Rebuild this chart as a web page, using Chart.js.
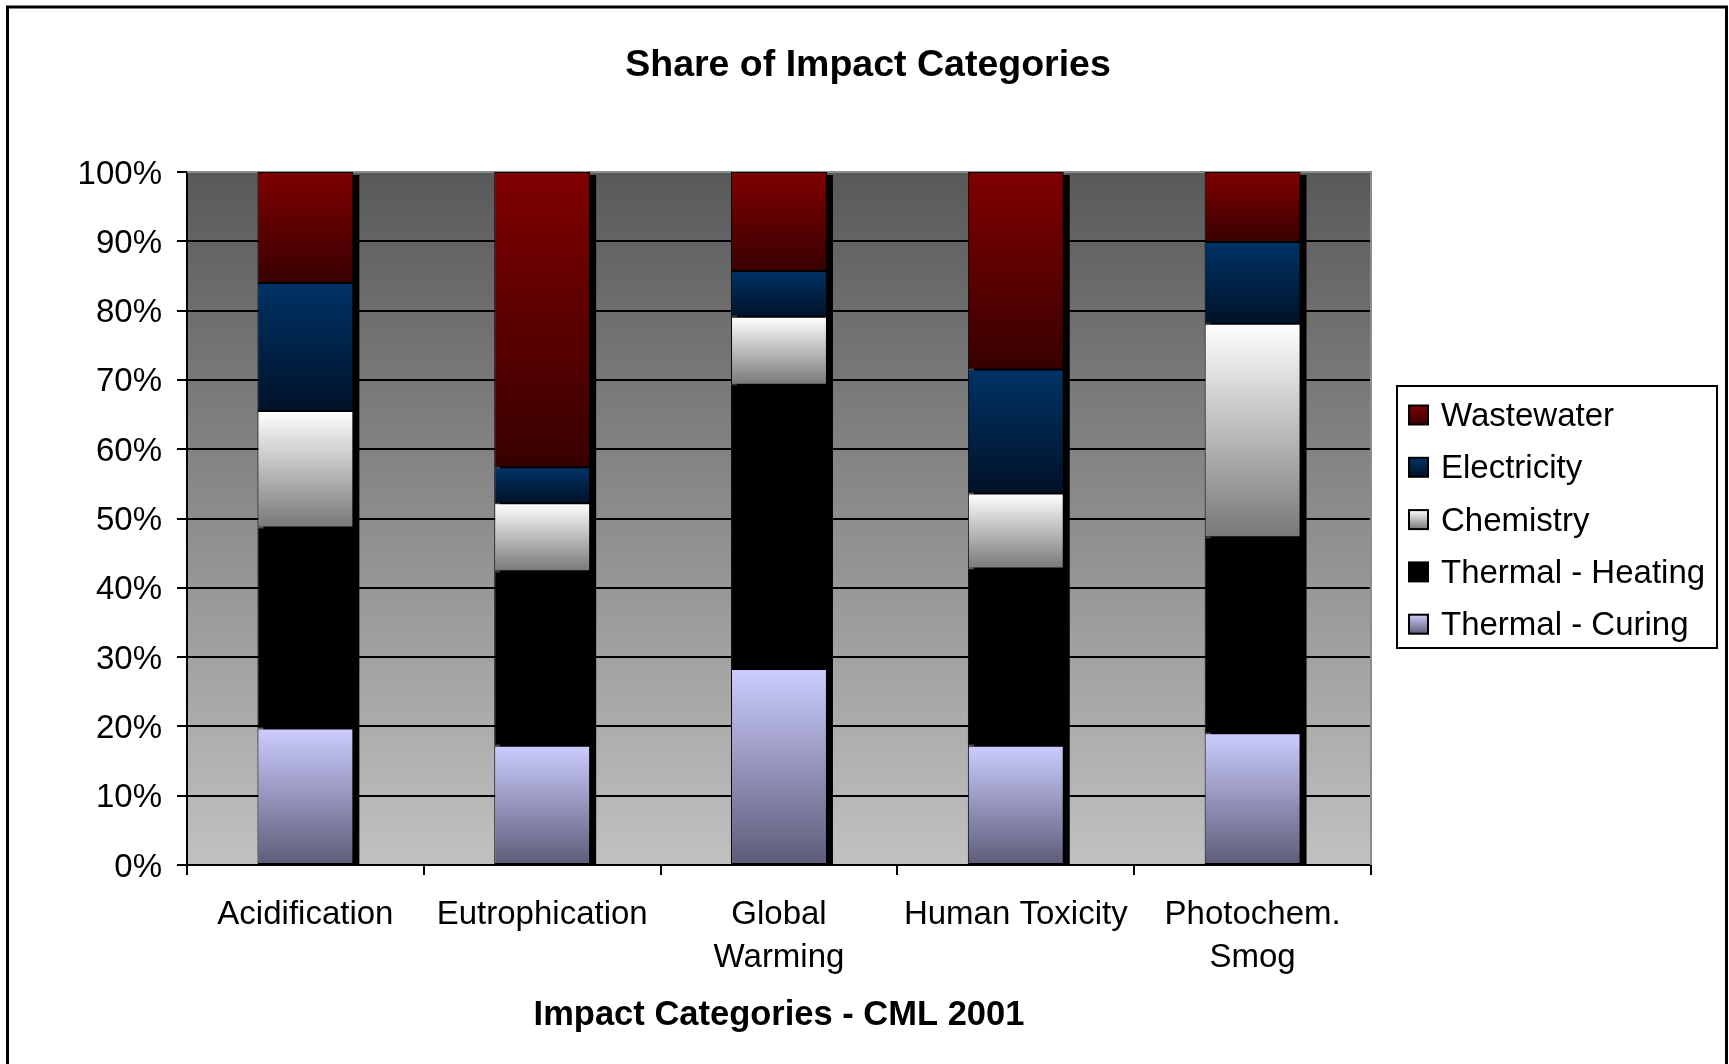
<!DOCTYPE html>
<html>
<head>
<meta charset="utf-8">
<title>Share of Impact Categories</title>
<script src="https://cdn.jsdelivr.net/npm/chart.js@4.4.1/dist/chart.umd.min.js"></script>
<style>
  html, body { margin: 0; padding: 0; background: #ffffff; }
  canvas { display: block; }
</style>
</head>
<body>
<canvas id="chart" width="1729" height="1064"></canvas>
<script>
// Impact categories (CML 2001) and the share contributed by each process step, in percent.
const categories = ['Acidification', 'Eutrophication', ['Global', 'Warming'], 'Human Toxicity', ['Photochem.', 'Smog']];
const seriesNames = ['Thermal - Curing', 'Thermal - Heating', 'Chemistry', 'Electricity', 'Wastewater'];
const thermalCuring  = [19.7, 17.2, 28.3, 17.2, 19.0];
const thermalHeating = [29.0, 25.2, 41.0, 25.6, 28.3];
const chemistry      = [16.8,  9.8,  9.8, 10.8, 30.8];
const electricity    = [18.5,  5.2,  6.6, 17.9, 11.8];
const wastewater     = [16.0, 42.6, 14.3, 28.5, 10.1];
const yTickStep = 10;
const yMax = 100;

const seriesValues = [thermalCuring, thermalHeating, chemistry, electricity, wastewater];

// top / bottom colour of each segment's vertical shading
const shades = [
  ['#ccccff', '#5c5c78'],
  ['#000000', '#000000'],
  ['#ffffff', '#787878'],
  ['#003366', '#001228'],
  ['#800000', '#380000']
];

const FONT = '"Liberation Sans", Arial, Helvetica, sans-serif';

function segmentFill(si) {
  return (ctx) => {
    const chart = ctx.chart;
    const area = chart.chartArea;
    const [c0, c1] = shades[si];
    if (!area || ctx.type !== 'data' || !chart.scales.y) return c0;
    const y = chart.scales.y;
    let below = 0;
    for (let k = 0; k < si; k++) below += seriesValues[k][ctx.dataIndex];
    const top = y.getPixelForValue(below + seriesValues[si][ctx.dataIndex]);
    const bot = y.getPixelForValue(below);
    if (!isFinite(top) || !isFinite(bot) || top === bot) return c0;
    const g = chart.ctx.createLinearGradient(0, top, 0, bot);
    g.addColorStop(0, c0);
    g.addColorStop(1, c1);
    return g;
  };
}

// plot-area shading, frame, column shadows and the boxed legend
const plotDecor = {
  id: 'plotDecor',
  beforeDraw(chart) {
    const { ctx, chartArea: a } = chart;
    ctx.save();
    ctx.fillStyle = '#ffffff';
    ctx.fillRect(0, 0, chart.width, chart.height);
    const g = ctx.createLinearGradient(0, a.top, 0, a.bottom);
    g.addColorStop(0, '#595959');
    g.addColorStop(1, '#c1c1c1');
    ctx.fillStyle = g;
    ctx.fillRect(a.left, a.top, a.right - a.left, a.bottom - a.top);
    ctx.restore();
  },
  beforeDatasetsDraw(chart) {
    const { ctx, chartArea: a } = chart;
    ctx.save();
    // light frame on top and right of the plot area
    ctx.strokeStyle = '#8c8c8c';
    ctx.lineWidth = 2;
    ctx.beginPath();
    ctx.moveTo(a.left, a.top);
    ctx.lineTo(a.right, a.top);
    ctx.lineTo(a.right, a.bottom);
    ctx.stroke();
    // shadows
    ctx.beginPath();
    ctx.rect(a.left, a.top, a.right - a.left, a.bottom - a.top);
    ctx.clip();
    ctx.fillStyle = '#000000';
    const metas = chart.getSortedVisibleDatasetMetas();
    const base = metas[0];
    base.data.forEach((bar, i) => {
      let top = Infinity;
      let bottom = -Infinity;
      metas.forEach(m => {
        const el = m.data[i];
        top = Math.min(top, el.y, el.base);
        bottom = Math.max(bottom, el.y, el.base);
      });
      const w = bar.width;
      ctx.fillRect(bar.x - w / 2 + 6, top + 3, w, bottom - top);
    });
    ctx.restore();
  },
  afterDraw(chart) {
    const ctx = chart.ctx;
    ctx.save();
    // outer frame
    ctx.strokeStyle = '#000000';
    ctx.lineWidth = 3;
    ctx.strokeRect(7.5, 7, 1719, 1100);

    // legend
    const x0 = 1397, y0 = 386, w = 320, h = 262;
    ctx.fillStyle = '#ffffff';
    ctx.fillRect(x0, y0, w, h);
    ctx.lineWidth = 2;
    ctx.strokeRect(x0, y0, w, h);
    ctx.font = '33px ' + FONT;
    ctx.textBaseline = 'middle';
    ctx.textAlign = 'left';
    const order = [4, 3, 2, 1, 0];
    order.forEach((si, i) => {
      const cy = 415 + i * 52.3;
      const s = 19;
      const g = ctx.createLinearGradient(0, cy - s / 2, 0, cy + s / 2);
      g.addColorStop(0, shades[si][0]);
      g.addColorStop(1, shades[si][1]);
      ctx.fillStyle = g;
      ctx.fillRect(1409, cy - s / 2, s, s);
      ctx.lineWidth = 2;
      ctx.strokeStyle = '#000000';
      ctx.strokeRect(1409, cy - s / 2, s, s);
      ctx.fillStyle = '#000000';
      ctx.fillText(seriesNames[si], 1441, cy + 2);
    });
    ctx.restore();
  }
};

const datasets = seriesNames.map((name, si) => ({
  label: name,
  data: seriesValues[si],
  backgroundColor: segmentFill(si),
  borderColor: '#000000',
  borderWidth: 1,
  borderSkipped: false,
  categoryPercentage: 1.0,
  barPercentage: 0.405
}));

new Chart(document.getElementById('chart'), {
  type: 'bar',
  data: { labels: categories, datasets },
  plugins: [plotDecor],
  options: {
    responsive: false,
    animation: false,
    devicePixelRatio: 1,
    layout: { padding: { left: 7, right: 0, top: 0, bottom: 0 } },
    plugins: {
      legend: { display: false },
      tooltip: { enabled: false },
      title: {
        display: true,
        text: 'Share of Impact Categories',
        color: '#000000',
        font: { family: FONT, size: 37.5, weight: 'bold', lineHeight: 1.2 },
        padding: { top: 43.5, bottom: 83.5 }
      }
    },
    scales: {
      x: {
        stacked: true,
        offset: true,
        grid: {
          display: true,
          drawOnChartArea: false,
          drawTicks: true,
          tickLength: 10,
          color: '#000000',
          lineWidth: 2,
          offset: true
        },
        border: { display: true, color: '#000000', width: 2 },
        ticks: {
          color: '#000000',
          font: { family: FONT, size: 33, lineHeight: 1.3 },
          padding: 18.5,
          maxRotation: 0,
          autoSkip: false
        },
        title: {
          display: true,
          text: 'Impact Categories - CML 2001',
          color: '#000000',
          font: { family: FONT, size: 34.5, weight: 'bold', lineHeight: 1.2 },
          padding: { top: 0, bottom: 28 }
        },
        afterFit(scale) { scale.height = 199; }
      },
      y: {
        stacked: true,
        min: 0,
        max: yMax,
        ticks: {
          stepSize: yTickStep,
          color: '#000000',
          font: { family: FONT, size: 33 },
          padding: 15,
          labelOffset: 2.5,
          callback: (v) => v + '%'
        },
        grid: {
          color: (c) => (c.tick && c.tick.value === yMax ? '#8c8c8c' : '#000000'),
          tickColor: '#000000',
          lineWidth: 2,
          tickLength: 10
        },
        border: { display: true, color: '#000000', width: 2 },
        afterFit(scale) { scale.width = 180; }
      },
      legendSpace: {
        type: 'linear',
        position: 'right',
        display: true,
        grid: { display: false, drawTicks: false },
        border: { display: false },
        ticks: { display: false },
        afterFit(scale) { scale.width = 358; }
      }
    }
  }
});
</script>
</body>
</html>
